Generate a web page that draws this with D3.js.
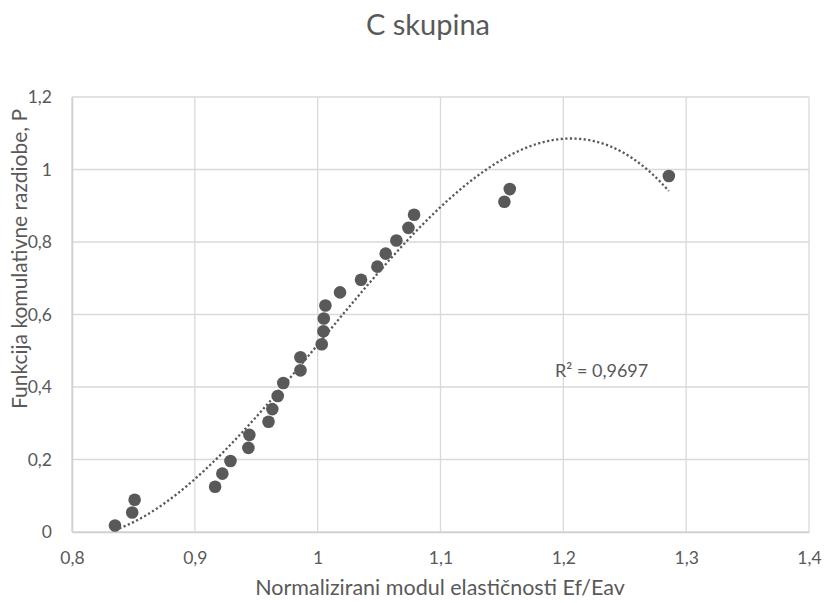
<!DOCTYPE html>
<html><head><meta charset="utf-8">
<script src="https://cdn.jsdelivr.net/npm/d3@7"></script>
<style>body{margin:0;background:#fff}svg{display:block}text{font-family:Lato,"Open Sans",sans-serif;fill:#595959}</style>
</head><body><svg id="c" width="828" height="603"></svg>
<script>
const title = "C skupina";
const xLabel = "Normalizirani modul elastičnosti Ef/Eav";
const yLabel = "Funkcija komulativne razdiobe, P";
const r2Label = "R² = 0,9697";
const xTicks = [0.8,0.9,1.0,1.1,1.2,1.3,1.4];
const yTicks = [0,0.2,0.4,0.6,0.8,1.0,1.2];
const ratio = [0.835,0.849,0.851,0.9165,0.9224,0.929,0.9436,0.9444,0.960,0.9631,0.9675,0.972,0.986,0.986,1.0033,1.0047,1.005,1.0063,1.0182,1.0353,1.0486,1.0554,1.0641,1.0739,1.0785,1.152,1.1564,1.2859];
const prob = [0.018,0.054,0.089,0.125,0.161,0.196,0.232,0.268,0.304,0.339,0.375,0.411,0.446,0.482,0.518,0.554,0.589,0.625,0.661,0.696,0.732,0.768,0.804,0.839,0.875,0.911,0.946,0.982];

const svg = d3.select("#c");
const L=72,R=809,T=97,B=532;
const x = d3.scaleLinear().domain([0.8,1.4]).range([L,R]);
const y = d3.scaleLinear().domain([0,1.2]).range([B,T]);
const fmt = d=> d3.format("~g")(+d.toFixed(1)).replace(".",",");

// grid
svg.append("g").selectAll("line").data(yTicks).join("line")
  .attr("x1",L).attr("x2",R).attr("y1",d=>y(d)).attr("y2",d=>y(d))
  .attr("stroke","#d9d9d9").attr("stroke-width",1.3);
svg.append("g").selectAll("line").data(xTicks).join("line")
  .attr("y1",T).attr("y2",B).attr("x1",d=>x(d)).attr("x2",d=>x(d))
  .attr("stroke","#d9d9d9").attr("stroke-width",1.3);

// axes
const xa = svg.append("g").attr("transform",`translate(0,${B})`)
  .call(d3.axisBottom(x).tickValues(xTicks).tickFormat(fmt).tickSize(0).tickPadding(20));
xa.select(".domain").attr("stroke","#d0d0d0").attr("stroke-width",1.5);
xa.selectAll("text").attr("font-size",17.5).attr("fill","#595959");
const ya = svg.append("g").attr("transform",`translate(${L},0)`)
  .call(d3.axisLeft(y).tickValues(yTicks).tickFormat(fmt).tickSize(0).tickPadding(20));
ya.select(".domain").attr("stroke","#d0d0d0").attr("stroke-width",1.5);
ya.selectAll("text").attr("font-size",17.5).attr("fill","#595959");

// cubic least-squares trendline from the data
function polyfit(xs, ys, deg){
  const n=deg+1, A=[...Array(n)].map(()=>Array(n+1).fill(0));
  xs.forEach((xv,i)=>{const t=xv-1;
    for(let r=0;r<n;r++){for(let c=0;c<n;c++)A[r][c]+=Math.pow(t,r+c);A[r][n]+=ys[i]*Math.pow(t,r);}});
  for(let i=0;i<n;i++){let m=i;for(let k=i+1;k<n;k++)if(Math.abs(A[k][i])>Math.abs(A[m][i]))m=k;
    [A[i],A[m]]=[A[m],A[i]];
    for(let k=i+1;k<n;k++){const f=A[k][i]/A[i][i];for(let c=i;c<=n;c++)A[k][c]-=f*A[i][c];}}
  const co=Array(n).fill(0);
  for(let i=n-1;i>=0;i--){let s=A[i][n];for(let c=i+1;c<n;c++)s-=A[i][c]*co[c];co[i]=s/A[i][i];}
  return xv=>{const t=xv-1;return co.reduce((s,c,k)=>s+c*Math.pow(t,k),0);};
}
const f = polyfit(ratio, prob, 3);
const [x0,x1] = d3.extent(ratio);
const trend = d3.range(0,201).map(i=>{const xv=x0+(x1-x0)*i/200;return [xv,f(xv)];});
svg.append("path").datum(trend)
  .attr("d",d3.line().x(d=>x(d[0])).y(d=>y(d[1])))
  .attr("fill","none").attr("stroke","#595959").attr("stroke-width",2.3)
  .attr("stroke-dasharray","2.2,2.4");

// points
svg.append("g").selectAll("circle").data(ratio).join("circle")
  .attr("cx",d=>x(d)).attr("cy",(d,i)=>y(prob[i])).attr("r",6.3)
  .attr("fill","#595959");

// texts
svg.append("text").attr("x",428).attr("y",35).attr("text-anchor","middle")
  .attr("font-size",29).text(title);
svg.append("text").attr("x",440).attr("y",595).attr("text-anchor","middle")
  .attr("font-size",21.5).text(xLabel);
svg.append("text").attr("transform","translate(27,259) rotate(-90)").attr("text-anchor","middle")
  .attr("font-size",21).text(yLabel);
svg.append("text").attr("x",555).attr("y",377).attr("font-size",18).text(r2Label);
</script></body></html>
